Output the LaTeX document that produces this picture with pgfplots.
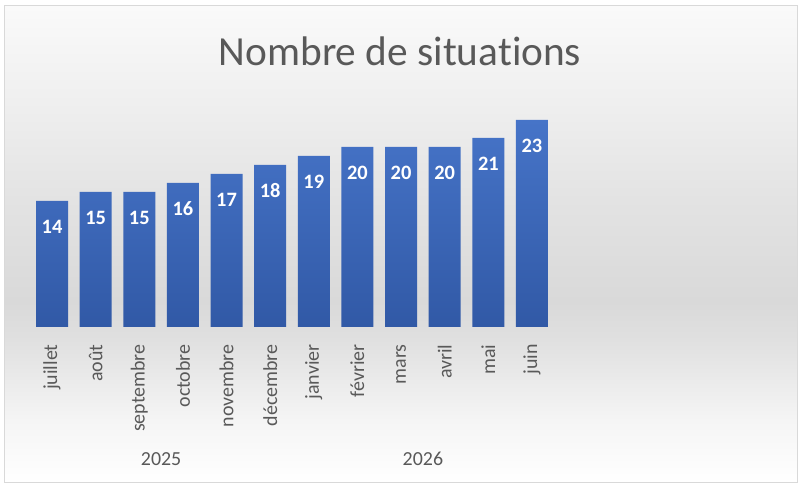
\documentclass[border=0pt]{standalone}
\usepackage{fontspec}
\setmainfont[Ligatures={NoCommon}]{Carlito}
\usepackage{pgfplots}
\pgfplotsset{compat=1.18}

\definecolor{txtgray}{HTML}{595959}
\definecolor{bartop}{HTML}{4674C8}
\definecolor{barbot}{HTML}{3159A6}
\definecolor{framegray}{HTML}{D9D9D9}

\pgfdeclareverticalshading{bgshade}{100bp}{%
  color(0bp)=(white); color(25bp)=(white);
  color(31.6bp)=(rgb,255:red,245;green,245;blue,245);
  color(40bp)=(rgb,255:red,224;green,224;blue,224);
  color(44bp)=(rgb,255:red,217;green,217;blue,217);
  color(54.7bp)=(rgb,255:red,227;green,227;blue,227);
  color(65bp)=(rgb,255:red,239;green,239;blue,239);
  color(75bp)=(rgb,255:red,250;green,250;blue,250);
  color(100bp)=(rgb,255:red,250;green,250;blue,250)}

\begin{document}
\begin{tikzpicture}[x=1bp,y=1bp]
\useasboundingbox (0,0) rectangle (800,484);
\shade[shading=bgshade, draw=framegray, line width=1bp] (4,1) rectangle (797,478);

\node[font=\fontsize{41.5}{41.5}\selectfont, text=txtgray] at (400,433) {Nombre de situations};

\begin{axis}[
  at={(30.2bp,157bp)}, anchor=south west,
  scale only axis, width=523.6bp, height=225bp,
  xmin=-0.5, xmax=11.5, ymin=0, ymax=25,
  axis line style={draw=none},
  tick style={draw=none},
  ytick=\empty,
  xtick={0,...,11},
  xticklabels={juillet,août,septembre,octobre,novembre,décembre,janvier,février,mars,avril,mai,juin},
  xticklabel shift=13bp,
  x tick label style={rotate=90, anchor=east, inner sep=0pt, text=txtgray,
    font=\fontsize{20}{20}\selectfont},
  /pgf/number format/assume math mode=true,
  clip=false,
  ybar, bar width=32bp,
  nodes near coords,
  every node near coord/.append style={anchor=center, yshift=-25.5bp,
    font=\fontsize{20.5}{20.5}\selectfont\bfseries, text=white},
]
\addplot[draw=none, top color=bartop, bottom color=barbot] coordinates {
(0,14) (1,15) (2,15) (3,16) (4,17) (5,18) (6,19) (7,20) (8,20) (9,20) (10,21) (11,23)};
\node[text=txtgray, font=\fontsize{20}{20}\selectfont] at (axis cs:2.5,0) [yshift=-132bp] {2025};
\node[text=txtgray, font=\fontsize{20}{20}\selectfont] at (axis cs:8.5,0) [yshift=-132bp] {2026};
\end{axis}
\end{tikzpicture}
\end{document}
